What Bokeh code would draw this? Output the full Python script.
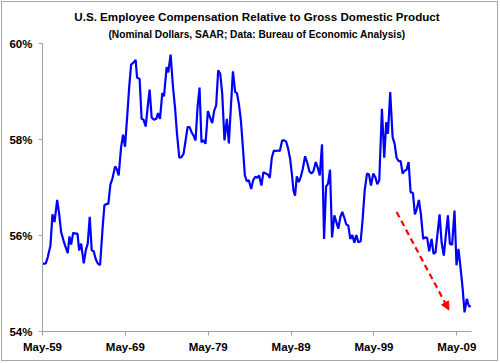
from bokeh.plotting import figure
from bokeh.models import Title, FixedTicker, Arrow, NormalHead
from bokeh.embed import file_html
from bokeh.resources import INLINE

# ---- data ----
years = [1959.33, 1959.73, 1959.97, 1960.29, 1960.53, 1960.78, 1961.10, 1961.34, 1961.58, 1961.86,
         1962.06, 1962.38, 1962.58, 1962.79, 1963.03, 1963.27, 1963.55, 1963.75, 1963.99, 1964.31,
         1964.55, 1964.79, 1965.03, 1965.27, 1965.51, 1965.75, 1965.99, 1966.28, 1966.56, 1966.80,
         1967.08, 1967.28, 1967.52, 1967.76, 1968.09, 1968.28, 1968.52, 1968.81, 1969.05, 1969.29,
         1969.57, 1969.78, 1970.02, 1970.30, 1970.57, 1970.74, 1971.05, 1971.29, 1971.53, 1971.78,
         1972.02, 1972.26, 1972.50, 1972.79, 1973.06, 1973.27, 1973.51, 1973.79, 1973.99, 1974.31,
         1974.51, 1974.79, 1975.08, 1975.32, 1975.56, 1975.84, 1976.08, 1976.35, 1976.60, 1976.84,
         1977.08, 1977.32, 1977.56, 1977.80, 1978.04, 1978.28, 1978.52, 1978.73, 1979.00, 1979.29,
         1979.57, 1979.81, 1980.05, 1980.29, 1980.53, 1980.78, 1981.02, 1981.29, 1981.58, 1981.82,
         1982.06, 1982.31, 1982.58, 1982.79, 1983.03, 1983.27, 1983.51, 1983.75, 1983.99, 1984.23,
         1984.51, 1984.75, 1985.03, 1985.23, 1985.47, 1985.75, 1985.99, 1986.28, 1986.52, 1986.76,
         1987.00, 1987.25, 1987.49, 1987.73, 1987.97, 1988.25, 1988.49, 1988.73, 1988.97, 1989.21,
         1989.45, 1989.61, 1989.81, 1990.02, 1990.26, 1990.50, 1990.74, 1991.02, 1991.29, 1991.53,
         1991.78, 1992.02, 1992.31, 1992.55, 1992.79, 1993.06, 1993.31, 1993.55, 1993.79, 1994.03,
         1994.27, 1994.55, 1994.79, 1995.03, 1995.27, 1995.51, 1995.75, 1995.99, 1996.23, 1996.47,
         1996.72, 1996.96, 1997.20, 1997.44, 1997.73, 1997.97, 1998.21, 1998.49, 1998.73, 1998.97,
         1999.25, 1999.49, 1999.73, 1999.97, 2000.29, 2000.57, 2000.81, 2001.02, 2001.29, 2001.58,
         2001.82, 2002.06, 2002.31, 2002.55, 2002.79, 2003.03, 2003.27, 2003.51, 2003.75, 2004.03,
         2004.27, 2004.51, 2004.75, 2004.99, 2005.27, 2005.51, 2005.75, 2005.99, 2006.28, 2006.52,
         2006.76, 2007.00, 2007.25, 2007.49, 2007.76, 2008.00, 2008.25, 2008.49, 2008.76, 2009.05,
         2009.29, 2009.53, 2009.77, 2010.02, 2010.26, 2010.53, 2010.78, 2011.02]

share = [55.41, 55.42, 55.55, 55.79, 56.44, 56.28, 56.74, 56.45, 56.07, 55.90,
         55.79, 55.63, 55.98, 55.81, 56.06, 56.04, 56.04, 55.69, 55.83, 55.42,
         55.69, 55.83, 56.39, 55.69, 55.67, 55.51, 55.42, 55.38, 56.10, 56.63,
         56.66, 56.66, 57.06, 57.18, 57.44, 57.39, 57.25, 57.83, 58.10, 57.85,
         58.53, 59.06, 59.56, 59.60, 59.66, 59.29, 59.26, 58.43, 58.41, 58.27,
         58.67, 59.04, 58.46, 58.41, 58.43, 58.55, 58.43, 58.97, 58.90, 59.51,
         59.40, 59.77, 59.09, 58.67, 58.12, 57.62, 57.63, 57.70, 57.98, 58.26,
         58.26, 58.15, 58.08, 57.98, 58.67, 59.08, 57.94, 57.99, 57.91, 58.59,
         58.45, 58.34, 58.60, 58.71, 59.44, 59.37, 58.95, 57.98, 58.43, 57.92,
         58.67, 59.42, 58.99, 58.97, 58.74, 58.40, 57.84, 57.25, 57.13, 57.15,
         56.97, 57.15, 57.23, 57.20, 57.25, 57.04, 57.32, 57.29, 57.27, 57.20,
         57.62, 57.77, 57.76, 57.77, 57.76, 57.98, 57.98, 57.96, 57.81, 57.60,
         57.24, 56.94, 56.83, 57.23, 57.11, 57.22, 57.39, 57.65, 57.51, 57.34,
         57.29, 57.34, 57.53, 57.41, 57.25, 57.90, 55.93, 57.02, 57.08, 57.37,
         55.96, 56.42, 56.28, 56.14, 56.38, 56.49, 56.37, 56.23, 56.21, 55.93,
         56.01, 55.85, 56.01, 55.86, 55.88, 56.35, 56.94, 57.29, 57.27, 57.04,
         57.29, 57.22, 57.07, 57.15, 58.64, 57.62, 58.36, 58.12, 58.99, 58.05,
         57.91, 57.62, 57.55, 57.55, 57.29, 57.35, 57.37, 57.53, 56.90, 56.89,
         56.44, 56.56, 56.74, 56.45, 55.93, 55.96, 55.95, 55.67, 55.93, 55.62,
         55.65, 56.04, 56.44, 55.86, 55.58, 56.00, 56.42, 55.83, 55.81, 56.52,
         55.38, 55.72, 55.34, 54.92, 54.40, 54.68, 54.53, 54.52]

x_ticks = [1959.33, 1969.33, 1979.33, 1989.33, 1999.33, 2009.33]
x_tick_labels = ["May-59", "May-69", "May-79", "May-89", "May-99", "May-09"]
y_ticks = [54, 56, 58, 60]
y_tick_labels = ["54%", "56%", "58%", "60%"]

# trend arrow (start -> end, in data units)
arrow_start = (2002.06, 56.49)
arrow_end = (2008.37, 54.45)

FONT = "Liberation Sans"

p = figure(width=497, height=360, output_backend="svg", toolbar_location=None,
           title=None, x_range=(1959.33, 2011.1), y_range=(54, 60),
           min_border_left=40, min_border_right=28, min_border_top=41, min_border_bottom=31)
p.styles = {"position": "absolute", "left": "1px", "top": "1px",
            "border": "1px solid #a6a6a6"}

p.add_layout(Title(text="(Nominal Dollars, SAAR; Data: Bureau of Economic Analysis)",
                   align="center", offset=-6.5, text_font=FONT, text_font_size="10.2px",
                   text_font_style="bold", text_color="black", standoff=8), "above")
p.add_layout(Title(text="U.S. Employee Compensation Relative to Gross Domestic Product",
                   align="center", offset=-6.5, text_font=FONT, text_font_size="11.6px",
                   text_font_style="bold", text_color="black", standoff=0), "above")

p.line(years, share, line_color="#0000ff", line_width=2.2)

p.add_layout(Arrow(end=NormalHead(size=8, fill_color="#ff0000", line_color="#ff0000"),
                   x_start=arrow_start[0], y_start=arrow_start[1],
                   x_end=arrow_end[0], y_end=arrow_end[1],
                   line_color="#ff0000", line_width=2.2, line_dash="6 4"))

p.grid.visible = False
p.outline_line_color = None
p.background_fill_color = "white"
p.border_fill_color = "white"

for ax in (p.xaxis[0], p.yaxis[0]):
    ax.axis_line_color = "#a0a0a0"
    ax.major_tick_line_color = "#a0a0a0"
    ax.major_tick_out = 4
    ax.major_tick_in = 0
    ax.minor_tick_line_color = None
    ax.major_label_text_font = FONT
    ax.major_label_text_font_size = "11.5px"
    ax.major_label_text_font_style = "bold"
    ax.major_label_text_color = "black"

p.xaxis[0].ticker = FixedTicker(ticks=x_ticks)
p.xaxis[0].major_label_overrides = dict(zip(x_ticks, x_tick_labels))
p.xaxis[0].major_label_standoff = 5
p.yaxis[0].ticker = FixedTicker(ticks=y_ticks)
p.yaxis[0].major_label_overrides = dict(zip(y_ticks, y_tick_labels))
p.yaxis[0].major_label_standoff = 6

open("out.html", "w").write(file_html(p, INLINE))
